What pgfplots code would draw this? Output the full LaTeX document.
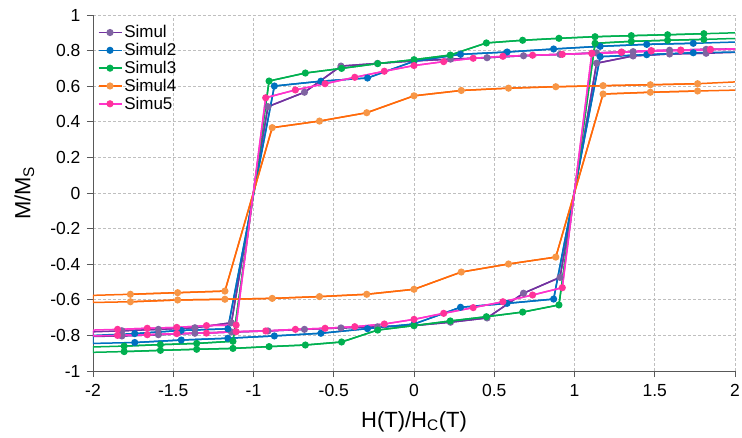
\documentclass[border=0pt]{standalone}
\usepackage{fontspec}
\setmainfont{Liberation Sans}
\usepackage{pgfplots}
\pgfplotsset{compat=1.18}
\definecolor{c1}{HTML}{7232A0}\definecolor{c1m}{HTML}{8064A2}
\definecolor{c2}{HTML}{0070C0}\definecolor{c2m}{HTML}{0070C0}
\definecolor{c3}{HTML}{00B050}\definecolor{c3m}{HTML}{00B050}
\definecolor{c4}{HTML}{FF6A0A}\definecolor{c4m}{HTML}{F79646}
\definecolor{c5}{HTML}{FF33CC}\definecolor{c5m}{HTML}{FF3399}
\pgfplotsset{
  sbase/.style={line width=1.5pt, mark=*, mark size=2.8pt, unbounded coords=jump},
  s1/.style={sbase, color=c1, mark options={solid, fill=c1m, draw=c1m}},
  s2/.style={sbase, color=c2, mark options={solid, fill=c2m, draw=c2m}},
  s3/.style={sbase, color=c3, mark options={solid, fill=c3m, draw=c3m}},
  s4/.style={sbase, color=c4, mark options={solid, fill=c4m, draw=c4m}},
  s5/.style={sbase, color=c5, mark options={solid, fill=c5m, draw=c5m}},
  lo/.style={mark=none, forget plot},
}
\begin{document}
\begin{tikzpicture}
\path[use as bounding box] (-93pt,-66pt) rectangle (649pt,371pt);
\begin{axis}[at={(0,0)}, anchor=south west, scale only axis,
  width=642pt, height=356pt,
  xmin=-2, xmax=2, ymin=-1, ymax=1,
  xtick={-2,-1.5,-1,-0.5,0,0.5,1,1.5,2},
  ytick={-1,-0.8,-0.6,-0.4,-0.2,0,0.2,0.4,0.6,0.8,1},
  axis x line*=bottom, axis y line*=left,
  axis line style={-, draw=black!65, line width=0.9pt},
  tick align=outside, major tick length=6pt,
  tick style={draw=black!65, line width=0.9pt},
  grid=major,
  major grid style={draw=black!25, dash pattern=on 3pt off 2pt, line width=0.8pt},
  /pgf/number format/assume math mode=true,
  tick label style={font=\fontsize{17.5}{20}\selectfont},
  xticklabel style={yshift=-4pt},
  yticklabel style={xshift=-3pt},
  xlabel={H(T)/H\textsubscript{C}(T)},
  ylabel={M/M\textsubscript{S}},
  label style={font=\fontsize{22}{25}\selectfont},
  xlabel style={at={(axis description cs:0.5,-0.158)}, anchor=base},
  ylabel style={at={(axis description cs:-0.107,0.5)}, anchor=center},
  legend style={at={(axis description cs:0.004,0.982)}, anchor=north west, draw=none, fill=none,
    font=\fontsize{17}{20}\selectfont, row sep=0pt, inner sep=2pt},
  legend cell align=left,
  legend image code/.code={\draw[mark repeat=2,mark phase=2,#1] plot coordinates {(0pt,0pt) (11.5pt,0pt) (23pt,0pt)};},
]
% ---------- Simul (purple)
\addplot[s1, lo] coordinates {
(2,0.81) (1.82,0.807) (1.5925,0.802) (1.365,0.794) (1.1375,0.787) (0.91,0.779) (0.6825,0.771) (0.455,0.760) (0.2275,0.752) (0,0.742) (-0.2275,0.728) (-0.455,0.713) (-0.6825,0.566) (-0.91,0.485) (-1.1375,-0.729) (-1.365,-0.757) (-1.5925,-0.766) (-1.82,-0.774) (-2,-0.78)
(-2,-0.806) (-1.82,-0.803) (-1.5925,-0.796) (-1.365,-0.788) (-1.1375,-0.781) (-0.91,-0.775) (-0.6825,-0.766) (-0.455,-0.758) (-0.2275,-0.752) (0,-0.745) (0.2275,-0.726) (0.455,-0.702) (0.6825,-0.563) (0.91,-0.474) (1.1375,0.729) (1.365,0.770) (1.5925,0.781) (1.82,0.785) (2,0.79)};
\addplot[s1] coordinates {
(1.82,0.807) (1.5925,0.802) (1.365,0.794) (1.1375,0.787) (0.91,0.779) (0.6825,0.771) (0.455,0.760) (0.2275,0.752) (0,0.742) (-0.2275,0.728) (-0.455,0.713) (-0.6825,0.566) (-0.91,0.485) (-1.1375,-0.729) (-1.365,-0.757) (-1.5925,-0.766) (-1.82,-0.774)
(nan,nan)
(-1.82,-0.803) (-1.5925,-0.796) (-1.365,-0.788) (-1.1375,-0.781) (-0.91,-0.775) (-0.6825,-0.766) (-0.455,-0.758) (-0.2275,-0.752) (0,-0.745) (0.2275,-0.726) (0.455,-0.702) (0.6825,-0.563) (0.91,-0.474) (1.1375,0.729) (1.365,0.770) (1.5925,0.781) (1.82,0.785)};
\addlegendentry{Simul}
% ---------- Simul2 (blue)
\addplot[s2, lo] coordinates {
(2,0.848) (1.74,0.841) (1.45,0.835) (1.16,0.824) (0.87,0.809) (0.58,0.792) (0.29,0.779) (0,0.740) (-0.29,0.646) (-0.58,0.628) (-0.87,0.601) (-1.16,-0.763) (-1.45,-0.772) (-1.74,-0.79) (-2,-0.80)
(-2,-0.845) (-1.74,-0.84) (-1.45,-0.826) (-1.16,-0.816) (-0.87,-0.803) (-0.58,-0.788) (-0.29,-0.762) (0,-0.736) (0.29,-0.642) (0.58,-0.62) (0.87,-0.596) (1.16,0.766) (1.45,0.777) (1.74,0.788) (2,0.792)};
\addplot[s2] coordinates {
(1.74,0.841) (1.45,0.835) (1.16,0.824) (0.87,0.809) (0.58,0.792) (0.29,0.779) (0,0.740) (-0.29,0.646) (-0.58,0.628) (-0.87,0.601) (-1.16,-0.763) (-1.45,-0.772) (-1.74,-0.79)
(nan,nan)
(-1.74,-0.84) (-1.45,-0.826) (-1.16,-0.816) (-0.87,-0.803) (-0.58,-0.788) (-0.29,-0.762) (0,-0.736) (0.29,-0.642) (0.58,-0.62) (0.87,-0.596) (1.16,0.766) (1.45,0.777) (1.74,0.788)};
\addlegendentry{Simul2}
% ---------- Simul3 (green)
\addplot[s3, lo] coordinates {
(2,0.90) (1.806,0.895) (1.58,0.889) (1.354,0.884) (1.128,0.878) (0.903,0.869) (0.677,0.858) (0.451,0.843) (0.226,0.775) (0,0.749) (-0.226,0.727) (-0.451,0.700) (-0.677,0.674) (-0.903,0.629) (-1.128,-0.833) (-1.354,-0.845) (-1.58,-0.852) (-1.806,-0.860) (-2,-0.865)
(-2,-0.895) (-1.806,-0.891) (-1.58,-0.884) (-1.354,-0.878) (-1.128,-0.873) (-0.903,-0.863) (-0.677,-0.854) (-0.451,-0.837) (-0.226,-0.770) (0,-0.745) (0.226,-0.719) (0.451,-0.695) (0.677,-0.669) (0.903,-0.629) (1.128,0.841) (1.354,0.852) (1.58,0.858) (1.806,0.863) (2,0.868)};
\addplot[s3] coordinates {
(1.806,0.895) (1.58,0.889) (1.354,0.884) (1.128,0.878) (0.903,0.869) (0.677,0.858) (0.451,0.843) (0.226,0.775) (0,0.749) (-0.226,0.727) (-0.451,0.700) (-0.677,0.674) (-0.903,0.629) (-1.128,-0.833) (-1.354,-0.845) (-1.58,-0.852) (-1.806,-0.860)
(nan,nan)
(-1.806,-0.891) (-1.58,-0.884) (-1.354,-0.878) (-1.128,-0.873) (-0.903,-0.863) (-0.677,-0.854) (-0.451,-0.837) (-0.226,-0.770) (0,-0.745) (0.226,-0.719) (0.451,-0.695) (0.677,-0.669) (0.903,-0.629) (1.128,0.841) (1.354,0.852) (1.58,0.858) (1.806,0.863)};
\addlegendentry{Simul3}
% ---------- Simul4 (orange)
\addplot[s4, lo] coordinates {
(2,0.624) (1.767,0.614) (1.4725,0.608) (1.178,0.603) (0.8835,0.597) (0.589,0.589) (0.2945,0.576) (0,0.546) (-0.2945,0.451) (-0.589,0.404) (-0.8835,0.367) (-1.178,-0.551) (-1.4725,-0.560) (-1.767,-0.569) (-2,-0.575)
(-2,-0.615) (-1.767,-0.611) (-1.4725,-0.601) (-1.178,-0.597) (-0.8835,-0.592) (-0.589,-0.582) (-0.2945,-0.569) (0,-0.541) (0.2945,-0.444) (0.589,-0.399) (0.8835,-0.360) (1.178,0.556) (1.4725,0.566) (1.767,0.573) (2,0.578)};
\addplot[s4] coordinates {
(1.767,0.614) (1.4725,0.608) (1.178,0.603) (0.8835,0.597) (0.589,0.589) (0.2945,0.576) (0,0.546) (-0.2945,0.451) (-0.589,0.404) (-0.8835,0.367) (-1.178,-0.551) (-1.4725,-0.560) (-1.767,-0.569)
(nan,nan)
(-1.767,-0.611) (-1.4725,-0.601) (-1.178,-0.597) (-0.8835,-0.592) (-0.589,-0.582) (-0.2945,-0.569) (0,-0.541) (0.2945,-0.444) (0.589,-0.399) (0.8835,-0.360) (1.178,0.556) (1.4725,0.566) (1.767,0.573)};
\addlegendentry{Simul4}
% ---------- Simu5 (pink)
\addplot[s5, lo] coordinates {
(2,0.81) (1.847,0.807) (1.662,0.803) (1.478,0.80) (1.293,0.792) (1.108,0.785) (0.924,0.779) (0.739,0.774) (0.554,0.768) (0.369,0.757) (0.185,0.738) (0,0.716) (-0.185,0.684) (-0.369,0.650) (-0.554,0.614) (-0.739,0.579) (-0.924,0.535) (-1.108,-0.742) (-1.293,-0.745) (-1.478,-0.755) (-1.662,-0.760) (-1.847,-0.766) (-2,-0.77)
(-2,-0.803) (-1.847,-0.80) (-1.662,-0.796) (-1.478,-0.79) (-1.293,-0.787) (-1.108,-0.779) (-0.924,-0.775) (-0.739,-0.766) (-0.554,-0.760) (-0.369,-0.751) (-0.185,-0.736) (0,-0.71) (0.185,-0.676) (0.369,-0.644) (0.554,-0.611) (0.739,-0.573) (0.924,-0.532) (1.108,0.783) (1.293,0.79) (1.478,0.797) (1.662,0.80) (1.847,0.805) (2,0.807)};
\addplot[s5] coordinates {
(1.847,0.807) (1.662,0.803) (1.478,0.80) (1.293,0.792) (1.108,0.785) (0.924,0.779) (0.739,0.774) (0.554,0.768) (0.369,0.757) (0.185,0.738) (0,0.716) (-0.185,0.684) (-0.369,0.650) (-0.554,0.614) (-0.739,0.579) (-0.924,0.535) (-1.108,-0.742) (-1.293,-0.745) (-1.478,-0.755) (-1.662,-0.760) (-1.847,-0.766)
(nan,nan)
(-1.847,-0.80) (-1.662,-0.796) (-1.478,-0.79) (-1.293,-0.787) (-1.108,-0.779) (-0.924,-0.775) (-0.739,-0.766) (-0.554,-0.760) (-0.369,-0.751) (-0.185,-0.736) (0,-0.71) (0.185,-0.676) (0.369,-0.644) (0.554,-0.611) (0.739,-0.573) (0.924,-0.532) (1.108,0.783) (1.293,0.79) (1.478,0.797) (1.662,0.80) (1.847,0.805)};
\addlegendentry{Simu5}
\end{axis}
\end{tikzpicture}
\end{document}
